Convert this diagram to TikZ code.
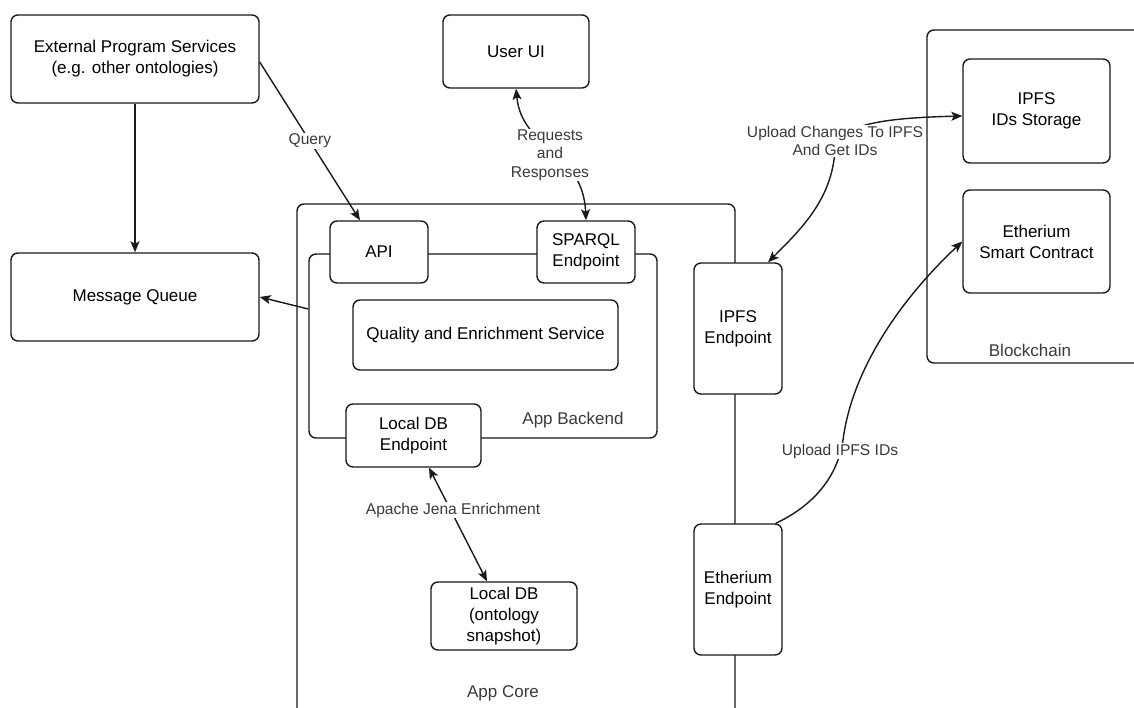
\documentclass[tikz,border=0pt]{standalone}
\usepackage{fontspec}
\setmainfont{Liberation Sans}
\usetikzlibrary{arrows.meta}
\definecolor{labgray}{HTML}{3A3A3A}
\definecolor{linecol}{HTML}{1A1A1A}
\tikzset{
  box/.style={draw=linecol, line width=1.4pt, rounded corners=7pt, fill=white,
    align=center, inner sep=0pt, font=\fontsize{17}{21}\selectfont, text=black},
  contbox/.style={draw=linecol, line width=1.4pt, rounded corners=7pt, inner sep=0pt},
  contlab/.style={font=\fontsize{17}{21}\selectfont, text=labgray, inner sep=0pt},
  elab/.style={fill=white, inner sep=1pt, align=center,
    font=\fontsize{15.6}{18.5}\selectfont, text=labgray},
  conn/.style={draw=linecol, line width=1.4pt},
  arr/.style={conn, -{Stealth[length=11pt,width=9pt,inset=2.5pt]}},
  arrtwo/.style={conn, {Stealth[length=11pt,width=9pt,inset=2.5pt]}-{Stealth[length=11pt,width=9pt,inset=2.5pt]}},
}
\begin{document}
\begin{tikzpicture}[x=1pt,y=-1pt]
\useasboundingbox[fill=white] (0,0) rectangle (1134,707);

% containers
\node[contbox, minimum width=438pt, minimum height=556pt] (appcore) at (516,482) {};
\node[contbox, minimum width=233pt, minimum height=333pt] (chain) at (1043.5,196.5) {};
\node[contbox, fill=white, minimum width=348pt, minimum height=184pt] (backend) at (483,346) {};

% nodes
\node[box, minimum width=248pt, minimum height=88pt] (ext) at (135,59) {External Program Services\\(e.g. other ontologies)};
\node[box, minimum width=248pt, minimum height=88pt] (mq) at (135,297) {Message Queue};
\node[box, minimum width=146pt, minimum height=73pt] (ui) at (516,51.5) {User UI};
\node[box, minimum width=98pt, minimum height=62pt] (api) at (379,252) {API};
\node[box, minimum width=98pt, minimum height=62pt] (sparql) at (586,252) {SPARQL\\Endpoint};
\node[box, minimum width=265pt, minimum height=70pt] (qes) at (485.5,335) {Quality and Enrichment Service};
\node[box, minimum width=135pt, minimum height=63pt] (ldbe) at (413.5,435.5) {Local DB\\Endpoint};
\node[box, minimum width=146pt, minimum height=68pt] (ldb) at (504,616) {Local DB\\(ontology\\snapshot)};
\node[box, minimum width=88pt, minimum height=131pt] (ipfse) at (738,328.5) {IPFS\\Endpoint};
\node[box, minimum width=88pt, minimum height=131pt] (ethe) at (738,589.5) {Etherium\\Endpoint};
\node[box, minimum width=147pt, minimum height=104pt] (ipfss) at (1036.5,111) {IPFS\\IDs Storage};
\node[box, minimum width=147pt, minimum height=103pt] (esc) at (1036.5,241.5) {Etherium\\Smart Contract};

% container labels
\node[contlab] (lbackend) at (573,420) {App Backend};
\node[contlab] (lcore) at (503,693) {App Core};
\node[contlab] (lchain) at (1030,350) {Blockchain};

% connectors
\draw[arr] (ext.south) -- (mq.north);
\draw[arr] ([yshift=-3pt]ext.east) -- node[elab] (lquery) {Query} ([xshift=-19pt]api.north);
\draw[arrtwo] (sparql.north) .. controls (583,150) and (522,150) .. (ui.south);
\node[elab] (lreq) at (550,155) {Requests\\and\\Responses};
\draw[arr] ([yshift=37pt]backend.west) -- (mq.east);
\draw[arrtwo] ([xshift=15.5pt]ldbe.south) -- ([xshift=-17pt]ldb.north);
\node[elab] (ljena) at (453,510) {Apache Jena Enrichment};
\draw[arrtwo] ([yshift=-5pt]ipfss.west) .. controls (880,118) and (838,125) .. (835,150)
  .. controls (832,200) and (800,230) .. ([xshift=30pt]ipfse.north);
\node[elab] (lupload) at (835,141) {Upload Changes To IPFS\\And Get IDs};
\draw[arr] ([xshift=-7pt]ethe.north east) .. controls (815,505) and (838,475) .. (843,440)
  .. controls (852,370) and (900,300) .. (esc.west);
\node[elab] (lids) at (840,451) {Upload IPFS IDs};
\end{tikzpicture}
\end{document}
